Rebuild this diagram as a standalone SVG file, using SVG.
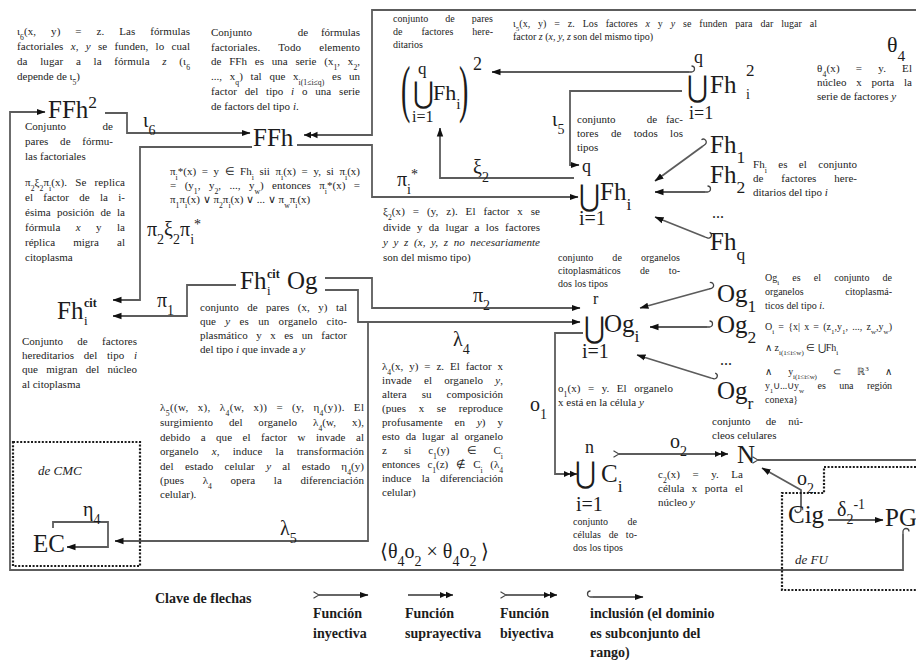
<svg xmlns="http://www.w3.org/2000/svg" width="916" height="660" viewBox="0 0 916 660" font-family="'Liberation Serif', 'Times New Roman', serif">
<style>
text{font-family:"Liberation Serif","Times New Roman",serif;fill:#1c1c1c}
.t{font-size:11px}
.t10{font-size:10px}
.n{font-size:25px}
.g{font-size:20px}
.u{font-family:"DejaVu Serif","DejaVu Sans",serif;font-size:30px}
.b{font-size:70%;baseline-shift:sub}
.p{font-size:70%;baseline-shift:super}
.i{font-style:italic}
.m{text-anchor:middle}
.e{text-anchor:end}
.c{fill:none;stroke:#5c5c5c;stroke-width:1.8}
.k{fill:none;stroke:#333;stroke-width:1.3}
.d{fill:none;stroke:#1c1c1c;stroke-width:2.2;stroke-dasharray:2 1.6}
.lg{font-size:14px;font-weight:bold}
</style>
<defs>
<marker id="a1" viewBox="0 0 9 8" refX="8.5" refY="4" markerWidth="9" markerHeight="8" markerUnits="userSpaceOnUse" orient="auto"><path d="M0,0.8 L9,4 L0,7.2z" fill="#111"/></marker>
<marker id="a2" viewBox="0 0 14 8" refX="13.5" refY="4" markerWidth="14" markerHeight="8" markerUnits="userSpaceOnUse" orient="auto"><path d="M0,0.8 L7,4 L0,7.2z M6.5,0.8 L13.5,4 L6.5,7.2z" fill="#111"/></marker>
<marker id="tj" viewBox="0 0 7 8" refX="6" refY="4" markerWidth="7" markerHeight="8" markerUnits="userSpaceOnUse" orient="auto"><path d="M0.5,0.8 L6,4 L0.5,7.2" fill="none" stroke="#444" stroke-width="1.2"/></marker>
<marker id="hk" viewBox="0 0 8 10" refX="7" refY="8.5" markerWidth="8" markerHeight="10" markerUnits="userSpaceOnUse" orient="auto"><path d="M7,8.5 H4.5 A3,3 0 0 1 4.5,2.5" fill="none" stroke="#444" stroke-width="1.3"/></marker>
<marker id="hk2" viewBox="0 0 8 10" refX="7" refY="1.5" markerWidth="8" markerHeight="10" markerUnits="userSpaceOnUse" orient="auto"><path d="M7,1.5 H4.5 A3,3 0 0 0 4.5,7.5" fill="none" stroke="#444" stroke-width="1.3"/></marker>
</defs>
<rect width="916" height="660" fill="#fff"/>

<!-- connectors -->
<g id="connectors" class="c">
<!-- theta4: N to FFh, running out past the right edge -->
<path d="M758,460 H916" marker-start="url(#tj)"/>
<path d="M916,10 H372 V135 H304" marker-end="url(#a2)"/>
<!-- PG to FFh^2 round the outside -->
<path d="M903,534 V570 H10 V112 H45" marker-start="url(#hk)" marker-end="url(#a1)"/>
<!-- iota6 -->
<path d="M105,113 H127 V133 H250" marker-end="url(#a1)"/>
<!-- pi2 xi2 pi_i* -->
<path d="M252,147 H140 V300 H113" marker-end="url(#a1)"/>
<!-- pi_i* -->
<path d="M297,145 H372 V197 H578" marker-end="url(#a1)"/>
<!-- xi2 -->
<path d="M574,178 H440 V128" marker-end="url(#a1)"/>
<!-- inclusion of the union of squares -->
<path d="M689,72 H492" marker-start="url(#hk2)" marker-end="url(#a1)"/>
<!-- iota5 -->
<path d="M682,91 H570 V165 H579" marker-end="url(#a1)"/>
<!-- Fh_k inclusions -->
<path d="M703,146 L655,181" marker-start="url(#hk2)" marker-end="url(#a1)"/>
<path d="M705,192 H655" marker-start="url(#hk2)" marker-end="url(#a1)"/>
<path d="M705,237 L655,217" marker-start="url(#hk2)" marker-end="url(#a1)"/>
<!-- pi1 -->
<path d="M236,285 H187 V316 H113" marker-end="url(#a1)"/>
<!-- pi2 -->
<path d="M325,278 H372 V308 H580" marker-end="url(#a1)"/>
<!-- lambda4 -->
<path d="M325,290 H358 V322 H580" marker-end="url(#a1)"/>
<!-- lambda5 -->
<path d="M368,322 V541 H115" marker-end="url(#a1)"/>
<!-- Og_k inclusions -->
<path d="M709,289 L640,308" marker-start="url(#hk2)" marker-end="url(#a1)"/>
<path d="M707,327 H650" marker-start="url(#hk2)" marker-end="url(#a1)"/>
<path d="M711,378 L637,355" marker-start="url(#hk2)" marker-end="url(#a1)"/>
<!-- o1 -->
<path d="M583,333 H555 V474 H577" marker-end="url(#a2)"/>
<!-- o2: C to N -->
<path d="M619,454 H728" marker-start="url(#tj)" marker-end="url(#a2)"/>
<!-- o2: Cig to N -->
<path d="M801,507 V490 L762,468" marker-start="url(#hk)" marker-end="url(#a1)"/>
<!-- delta2^-1 -->
<path d="M828,520 H883" marker-end="url(#a1)"/>
<!-- eta4 loop -->
<path d="M53,528 V522 H108 V547 H67" marker-end="url(#a1)"/>
</g>

<!-- dotted frames -->
<g id="frame-cmc">
<rect class="d" x="13" y="442" width="127" height="124"/>
<text x="38" y="475" class="i" font-size="13">de CMC</text>
</g>
<g id="frame-fu">
<path class="d" d="M916,467 H824 V493 H782 V590 H916"/>
<text x="795" y="564" class="i" font-size="13">de FU</text>
</g>

<!-- arrow labels -->
<g id="labels" class="g">
<text x="143" y="127">ι<tspan class="b">6</tspan></text>
<text x="552" y="126">ι<tspan class="b">5</tspan></text>
<text x="473" y="174">ξ<tspan class="b">2</tspan></text>
<text x="397" y="186">π<tspan class="b">i</tspan><tspan class="p">*</tspan></text>
<text x="147" y="236">π<tspan class="b">2</tspan>ξ<tspan class="b">2</tspan>π<tspan class="b">i</tspan><tspan class="p">*</tspan></text>
<text x="157" y="307">π<tspan class="b">1</tspan></text>
<text x="473" y="302">π<tspan class="b">2</tspan></text>
<text x="453" y="346">λ<tspan class="b">4</tspan></text>
<text x="280" y="535">λ<tspan class="b">5</tspan></text>
<text x="530" y="411">o<tspan class="b">1</tspan></text>
<text x="670" y="448">o<tspan class="b">2</tspan></text>
<text x="797" y="485">o<tspan class="b">2</tspan></text>
<text x="837" y="516">δ<tspan class="b">2</tspan><tspan class="p">-1</tspan></text>
<text x="83" y="516">η<tspan class="b">4</tspan></text>
<text x="887" y="52" font-size="22">θ<tspan class="b">4</tspan></text>
<text x="380" y="558">⟨θ<tspan class="b">4</tspan>o<tspan class="b">2</tspan> × θ<tspan class="b">4</tspan>o<tspan class="b">2</tspan> ⟩</text>
</g>

<!-- nodes -->
<g id="ffh2"><text class="n" x="48" y="118" font-size="26">FFh<tspan class="p">2</tspan></text></g>
<g id="ffh"><text class="n" x="253" y="146" font-size="26">FFh</text></g>

<g id="union-fh-pairs">
<text transform="translate(401,110) scale(1,2.3)" font-size="28">(</text>
<text x="418" y="74" font-size="17">q</text>
<text class="u" transform="translate(413,103) scale(0.85,1)" font-size="26">⋃</text>
<text x="433" y="100" font-size="22">Fh<tspan class="b">i</tspan></text>
<text x="412" y="122" font-size="16">i=1</text>
<text transform="translate(459,110) scale(1,2.3)" font-size="28">)</text>
<text x="473" y="70" font-size="18">2</text>
</g>

<g id="union-fh-sq">
<text x="694" y="63" font-size="18">q</text>
<text class="u" transform="translate(687,97) scale(0.85,1)">⋃</text>
<text class="n" x="710" y="93">Fh</text>
<text x="746" y="76" font-size="17">2</text>
<text x="746" y="99" font-size="14">i</text>
<text x="689" y="119" font-size="18">i=1</text>
</g>

<g id="union-fh">
<text x="582" y="172" font-size="18">q</text>
<text class="u" transform="translate(579,206) scale(0.85,1)">⋃</text>
<text class="n" x="600" y="200">Fh<tspan class="b">i</tspan></text>
<text x="579" y="225" font-size="20">i=1</text>
</g>

<g id="fh-1"><text class="n" x="710" y="153">Fh<tspan class="b">1</tspan></text></g>
<g id="fh-2"><text class="n" x="710" y="183">Fh<tspan class="b">2</tspan></text></g>
<g id="fh-dots"><text x="712" y="218" font-size="16">...</text></g>
<g id="fh-q"><text class="n" x="710" y="250">Fh<tspan class="b">q</tspan></text></g>

<g id="fh-cit">
<text class="n" x="57" y="319">Fh</text>
<text x="84" y="307" font-size="12" font-weight="bold">cit</text>
<text x="84" y="325" font-size="13">i</text>
</g>

<g id="fh-cit-og">
<text class="n" x="240" y="289">Fh</text>
<text x="267" y="278" font-size="12" font-weight="bold">cit</text>
<text x="267" y="295" font-size="13">i</text>
<text class="n" x="287" y="289">Og</text>
</g>

<g id="union-og">
<text x="593" y="304" font-size="16">r</text>
<text class="u" transform="translate(584,338) scale(0.85,1)">⋃</text>
<text class="n" x="604" y="332">Og<tspan class="b">i</tspan></text>
<text x="582" y="358" font-size="20">i=1</text>
</g>

<g id="og-1"><text class="n" x="717" y="302">Og<tspan class="b">1</tspan></text></g>
<g id="og-2"><text class="n" x="717" y="333">Og<tspan class="b">2</tspan></text></g>
<g id="og-dots"><text x="720" y="365" font-size="16">...</text></g>
<g id="og-r"><text class="n" x="717" y="399">Og<tspan class="b">r</tspan></text></g>

<g id="union-c">
<text x="585" y="453" font-size="18">n</text>
<text class="u" transform="translate(575,483) scale(0.85,1)">⋃</text>
<text class="n" x="601" y="482">C<tspan class="b">i</tspan></text>
<text x="576" y="511" font-size="20">i=1</text>
</g>

<g id="n"><text class="n" x="737" y="463" font-size="24">N</text></g>
<g id="cig"><text class="n" x="788" y="523" font-size="24">Cig</text></g>
<g id="pg"><text class="n" x="885" y="526">PG</text></g>
<g id="ec"><text class="n" x="33" y="552">EC</text></g>

<!-- descriptions: justified lines carry word-spacing, textLength trims the rest -->
<g id="notes" class="t">
<text x="17" y="35" word-spacing="12" textLength="173" lengthAdjust="spacing">ι<tspan class="b">6</tspan>(x, y) = z. Las fórmulas</text>
<text x="17" y="50" word-spacing="4.5" textLength="173" lengthAdjust="spacing">factoriales <tspan class="i">x</tspan>, <tspan class="i">y</tspan> se funden, lo cual</text>
<text x="17" y="65" word-spacing="9.8" textLength="173" lengthAdjust="spacing">da lugar a la fórmula <tspan class="i">z</tspan> (ι<tspan class="b">6</tspan></text>
<text x="17" y="80">depende de ι<tspan class="b">5</tspan>)</text>

<text x="211" y="36">Conjunto</text><text x="303" y="36" class="m">de</text><text x="360" y="36" class="e">fórmulas</text>
<text x="211" y="51" word-spacing="15.5" textLength="149" lengthAdjust="spacing">factoriales. Todo elemento</text>
<text x="211" y="65" word-spacing="5" textLength="149" lengthAdjust="spacing">de FFh es una serie (x<tspan class="b">1</tspan>, x<tspan class="b">2</tspan>,</text>
<text x="211" y="80" word-spacing="5" textLength="149" lengthAdjust="spacing">..., x<tspan class="b">q</tspan>) tal que x<tspan class="b">i(1≤i≤q)</tspan> es un</text>
<text x="211" y="95" word-spacing="5" textLength="149" lengthAdjust="spacing">factor del tipo <tspan class="i">i</tspan> o una serie</text>
<text x="211" y="110">de factors del tipo <tspan class="i">i</tspan>.</text>

<g class="t10">
<text x="393" y="22" word-spacing="14.5" textLength="100" lengthAdjust="spacing">conjunto de pares</text>
<text x="393" y="35" word-spacing="16.5" textLength="100" lengthAdjust="spacing">de factores here-</text>
<text x="393" y="48">ditarios</text>
</g>

<g class="t10">
<text x="513" y="27" word-spacing="5.3" textLength="304" lengthAdjust="spacing">ι<tspan class="b">5</tspan>(x, y) = z. Los factores <tspan class="i">x</tspan> y <tspan class="i">y</tspan> se funden para dar lugar al</text>
<text x="513" y="40">factor <tspan class="i">z</tspan> (<tspan class="i">x, y, z</tspan> son del mismo tipo)</text>
</g>

<text x="817" y="72" word-spacing="13" textLength="95" lengthAdjust="spacing">θ<tspan class="b">4</tspan>(x) = y. El</text>
<text x="817" y="86" word-spacing="7" textLength="95" lengthAdjust="spacing">núcleo x porta la</text>
<text x="817" y="100">serie de factores <tspan class="i">y</tspan></text>

<text x="25" y="130">Conjunto</text><text x="113" y="130" class="e">de</text>
<text x="25" y="145" word-spacing="9" textLength="88" lengthAdjust="spacing">pares de fórmu-</text>
<text x="25" y="160">las factoriales</text>

<text x="25" y="186" word-spacing="5.3" textLength="100" lengthAdjust="spacing">π<tspan class="b">2</tspan>ξ<tspan class="b">2</tspan>π<tspan class="b">i</tspan>(x). Se replica</text>
<text x="25" y="201" word-spacing="7.5" textLength="100" lengthAdjust="spacing">el factor de la i-</text>
<text x="25" y="216" word-spacing="3.4" textLength="100" lengthAdjust="spacing">ésima posición de la</text>
<text x="25" y="231" word-spacing="12.5" textLength="100" lengthAdjust="spacing">fórmula <tspan class="i">x</tspan> y la</text>
<text x="25" y="246" word-spacing="15.3" textLength="100" lengthAdjust="spacing">réplica migra al</text>
<text x="25" y="261">citoplasma</text>

<text x="170" y="175" word-spacing="2.8" textLength="190" lengthAdjust="spacing">π<tspan class="b">i</tspan>*(x) = y ∈ Fh<tspan class="b">i</tspan> sii π<tspan class="b">i</tspan>(x) = y, si π<tspan class="b">i</tspan>(x)</text>
<text x="170" y="189" word-spacing="5.6" textLength="190" lengthAdjust="spacing">= (y<tspan class="b">1</tspan>, y<tspan class="b">2</tspan>, ..., y<tspan class="b">w</tspan>) entonces π<tspan class="b">i</tspan>*(x) =</text>
<text x="170" y="203">π<tspan class="b">1</tspan>π<tspan class="b">i</tspan>(x) ∨ π<tspan class="b">2</tspan>π<tspan class="b">i</tspan>(x) ∨ ... ∨ π<tspan class="b">w</tspan>π<tspan class="b">i</tspan>(x)</text>

<text x="383" y="215" word-spacing="5.1" textLength="157" lengthAdjust="spacing">ξ<tspan class="b">2</tspan>(x) = (y, z). El factor x se</text>
<text x="383" y="231" word-spacing="3.6" textLength="157" lengthAdjust="spacing">divide y da lugar a los factores</text>
<text x="383" y="246" word-spacing="2.8" textLength="157" lengthAdjust="spacing" class="i">y y z (x, y, z no necesariamente</text>
<text x="383" y="261">son del mismo tipo)</text>

<text x="577" y="123">conjunto</text><text x="652" y="123" class="m">de</text><text x="683" y="123" class="e">fac-</text>
<text x="577" y="137" word-spacing="9.6" textLength="106" lengthAdjust="spacing">tores de todos los</text>
<text x="577" y="151">tipos</text>

<text x="753" y="168" word-spacing="8.6" textLength="104" lengthAdjust="spacing">Fh<tspan class="b">i</tspan> es el conjunto</text>
<text x="753" y="182" word-spacing="15" textLength="104" lengthAdjust="spacing">de factores here-</text>
<text x="753" y="196">ditarios del tipo <tspan class="i">i</tspan></text>

<g class="t10">
<text x="558" y="261" word-spacing="16.5" textLength="122" lengthAdjust="spacing">conjunto de organelos</text>
<text x="558" y="274" word-spacing="16.8" textLength="122" lengthAdjust="spacing">citoplasmáticos de to-</text>
<text x="558" y="287">dos los tipos</text>
</g>

<text x="382" y="370" word-spacing="3.1" textLength="121" lengthAdjust="spacing">λ<tspan class="b">4</tspan>(x, y) = z. El factor x</text>
<text x="382" y="384" word-spacing="9.4" textLength="121" lengthAdjust="spacing">invade el organelo <tspan class="i">y</tspan>,</text>
<text x="382" y="398" word-spacing="12.3" textLength="121" lengthAdjust="spacing">altera su composición</text>
<text x="382" y="412" word-spacing="9.9" textLength="121" lengthAdjust="spacing">(pues x se reproduce</text>
<text x="382" y="426" word-spacing="9.1" textLength="121" lengthAdjust="spacing">profusamente en <tspan class="i">y</tspan>) y</text>
<text x="382" y="440" word-spacing="3.1" textLength="121" lengthAdjust="spacing">esto da lugar al organelo</text>
<text x="382" y="454" word-spacing="14.5" textLength="121" lengthAdjust="spacing">z si c<tspan class="b">1</tspan>(y) ∈ C<tspan class="b">i</tspan></text>
<text x="382" y="468" word-spacing="5" textLength="121" lengthAdjust="spacing">entonces c<tspan class="b">1</tspan>(z) ∉ C<tspan class="b">i</tspan> (λ<tspan class="b">4</tspan></text>
<text x="382" y="482" word-spacing="7.5" textLength="121" lengthAdjust="spacing">induce la diferenciación</text>
<text x="382" y="496">celular)</text>

<text x="200" y="311" word-spacing="5.7" textLength="147" lengthAdjust="spacing">conjunto de pares (x, y) tal</text>
<text x="200" y="325" word-spacing="6.5" textLength="147" lengthAdjust="spacing">que <tspan class="i">y</tspan> es un organelo cito-</text>
<text x="200" y="339" word-spacing="5.7" textLength="147" lengthAdjust="spacing">plasmático y x es un factor</text>
<text x="200" y="353">del tipo <tspan class="i">i</tspan> que invade a <tspan class="i">y</tspan></text>

<text x="22" y="345" word-spacing="11.5" textLength="115" lengthAdjust="spacing">Conjunto de factores</text>
<text x="22" y="359" word-spacing="7" textLength="115" lengthAdjust="spacing">hereditarios del tipo <tspan class="i">i</tspan></text>
<text x="22" y="373" word-spacing="5.5" textLength="115" lengthAdjust="spacing">que migran del núcleo</text>
<text x="22" y="388">al citoplasma</text>

<g class="t10">
<text x="765" y="281" word-spacing="10.5" textLength="127" lengthAdjust="spacing">Og<tspan class="b">i</tspan> es el conjunto de</text>
<text x="765" y="295">organelos</text><text x="892" y="295" class="e">citoplasmá-</text>
<text x="765" y="309">ticos del tipo <tspan class="i">i</tspan>.</text>
<text x="765" y="330" word-spacing="1.6" textLength="127" lengthAdjust="spacing">O<tspan class="b">i</tspan> = {x| x = (z<tspan class="b">1</tspan>,y<tspan class="b">1</tspan>, ..., z<tspan class="b">w</tspan>,y<tspan class="b">w</tspan>)</text>
<text x="765" y="351">∧ z<tspan class="b">i(1≤i≤w)</tspan> ∈ ⋃Fh<tspan class="b">i</tspan></text>
<text x="765" y="375" word-spacing="14" textLength="127" lengthAdjust="spacing">∧ y<tspan class="b">i(1≤i≤w)</tspan> ⊂ ℝ<tspan class="p">3</tspan> ∧</text>
<text x="765" y="389" word-spacing="11.3" textLength="127" lengthAdjust="spacing">y<tspan class="b">1</tspan>∪...∪y<tspan class="b">w</tspan> es una región</text>
<text x="765" y="403">conexa}</text>
</g>

<text x="558" y="392" word-spacing="4.6" textLength="115" lengthAdjust="spacing">o<tspan class="b">1</tspan>(x) = y. El organelo</text>
<text x="558" y="406">x está en la célula <tspan class="i">y</tspan></text>

<text x="712" y="425">conjunto</text><text x="771" y="425" class="m">de</text><text x="803" y="425" class="e">nú-</text>
<text x="712" y="439">cleos celulares</text>

<text x="658" y="478" word-spacing="9.5" textLength="85" lengthAdjust="spacing">c<tspan class="b">2</tspan>(x) = y. La</text>
<text x="658" y="492" word-spacing="4.7" textLength="85" lengthAdjust="spacing">célula x porta el</text>
<text x="658" y="506">núcleo <tspan class="i">y</tspan></text>

<g class="t10">
<text x="573" y="525">conjunto</text><text x="637" y="525" class="e">de</text>
<text x="573" y="538" word-spacing="5.2" textLength="64" lengthAdjust="spacing">células de to-</text>
<text x="573" y="551">dos los tipos</text>
</g>

<text x="160" y="411" word-spacing="6" textLength="204" lengthAdjust="spacing">λ<tspan class="b">5</tspan>((w, x), λ<tspan class="b">4</tspan>(w, x)) = (y, η<tspan class="b">4</tspan>(y)). El</text>
<text x="160" y="426" word-spacing="13" textLength="204" lengthAdjust="spacing">surgimiento del organelo λ<tspan class="b">4</tspan>(w, x),</text>
<text x="160" y="441" word-spacing="7.7" textLength="204" lengthAdjust="spacing">debido a que el factor w invade al</text>
<text x="160" y="455" word-spacing="10.4" textLength="204" lengthAdjust="spacing">organelo <tspan class="i">x</tspan>, induce la transformación</text>
<text x="160" y="470" word-spacing="8.5" textLength="204" lengthAdjust="spacing">del estado celular <tspan class="i">y</tspan> al estado η<tspan class="b">4</tspan>(y)</text>
<text x="160" y="484" word-spacing="15.8" textLength="204" lengthAdjust="spacing">(pues λ<tspan class="b">4</tspan> opera la diferenciación</text>
<text x="160" y="498">celular).</text>
</g>

<!-- arrow key -->
<g id="key">
<text class="lg" x="155" y="603">Clave de flechas</text>
<path class="k" d="M319,595 H368" marker-start="url(#tj)" marker-end="url(#a1)"/>
<path class="k" d="M408,595 H453" marker-end="url(#a2)"/>
<path class="k" d="M506,595 H557" marker-start="url(#tj)" marker-end="url(#a2)"/>
<path class="k" d="M593,597 H643" marker-start="url(#hk)" marker-end="url(#a1)"/>
<text class="lg" x="313" y="618">Función</text>
<text class="lg" x="313" y="638">inyectiva</text>
<text class="lg" x="405" y="618">Función</text>
<text class="lg" x="405" y="638">suprayectiva</text>
<text class="lg" x="500" y="618">Función</text>
<text class="lg" x="500" y="638">biyectiva</text>
<text class="lg" x="590" y="618">inclusión (el dominio</text>
<text class="lg" x="590" y="638">es subconjunto del</text>
<text class="lg" x="590" y="657">rango)</text>
</g>
</svg>
